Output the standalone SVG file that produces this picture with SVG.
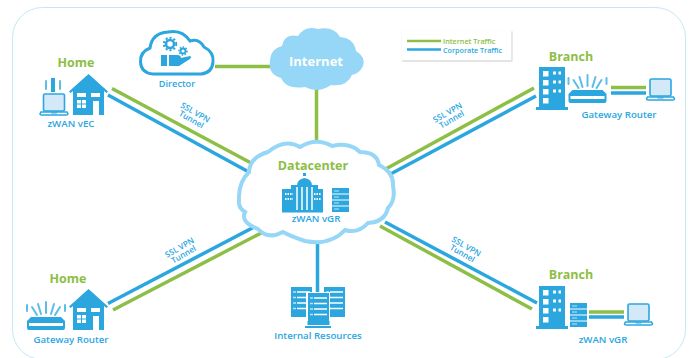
<svg xmlns="http://www.w3.org/2000/svg" width="694" height="358" viewBox="0 0 694 358">
<style>
text{font-family:"Open Sans","Liberation Sans",sans-serif;font-weight:600;fill:#2ba6df;text-anchor:middle}
.t{font-size:9.7px}
.h{font-size:12.5px;font-weight:700;fill:#8dbe46}
.s{font-size:8.2px}
.g{stroke:#8dbe46;stroke-width:3.500;fill:none}
.b{stroke:#2ba6df;stroke-width:3.500;fill:none}
.f{fill:#2ba6df}
.w{fill:#fff}
.o{fill:#d3e9f7;stroke:#2ba6df;stroke-width:1.6}
.a{stroke:#5dbde9;stroke-width:2;fill:none;stroke-linecap:round}
</style>
<defs>
<g id="house">
<path class="f" d="M19.500 0L39 17.500L37.500 19L35 17V41H4V17L1.500 19L0 17.500Z"/>
<rect class="w" x="8" y="19" width="9" height="4"/><rect class="w" x="22" y="19" width="9" height="4"/>
<rect class="w" x="8" y="26" width="9" height="8"/><rect class="w" x="24" y="27" width="6" height="14"/>
<path d="M12.500 26v8M8 30h9" stroke="#2ba6df" stroke-width="1"/>
</g>
<g id="laptop">
<rect class="o" x="3.500" y="1" width="21" height="17" rx="1.500"/>
<path class="o" d="M1 19H27L28 21Q28 22 26 22H2Q0 22 0 21Z" style="fill:#fff"/>
<rect class="f" x="11" y="19.500" width="6" height="1"/>
</g>
<g id="router">
<path class="a" d="M19 0V11M11 2L14 12M27 2L24 12M5 5L10 13M33 5L28 13"/>
<path class="a" d="M0 3V9M38 3V9"/>
<path class="f" d="M4 15H34L38 19V26Q38 28 36 28H2Q0 28 0 26V19Z"/>
<rect class="w" x="2" y="21" width="34" height="3"/>
</g>
<g id="building">
<rect class="f" x="3" y="0" width="26" height="41"/>
<rect class="f" x="0" y="40" width="32" height="3"/>
<rect class="w" x="7" y="4" width="5.500" height="5.500"/><rect class="w" x="7" y="13" width="5.500" height="5.500"/><rect class="w" x="7" y="22" width="5.500" height="5.500"/><rect class="w" x="7" y="31" width="5.500" height="5.500"/>
<path d="M17 6h8M17 15h8M17 24h8" stroke="#fff" stroke-width="3" stroke-dasharray="3 2.500"/>
</g>
<g id="server">
<rect class="f" x="0" y="0" width="17" height="24"/>
<path d="M0 6h17M0 12h17M0 18h17" stroke="#fff" stroke-width="1"/>
<path d="M2 3h5M2 9h5M2 15h5M2 21h5" stroke="#bfe3f6" stroke-width="1.200"/>
</g>
<g id="rack">
<rect class="f" x="0" y="0" width="21" height="30"/>
<path d="M6 5h13M6 10.500h13M6 16h13M6 21.500h13" stroke="#fff" stroke-width="1.600"/>
<path d="M2 5h3M2 10.500h3M2 16h3M2 21.500h3" stroke="#bfe3f6" stroke-width="1.600"/>
</g>
<filter id="sh" x="-5%" y="-10%" width="110%" height="125%"><feDropShadow dx="0.600" dy="0.800" stdDeviation="0.700" flood-color="#999" flood-opacity="0.700"/></filter>
</defs>

<rect id="frame" x="12.500" y="7.500" width="673" height="352" rx="30" fill="#fff" stroke="#c4e8f4"/>

<g id="connectors">
<path class="g" d="M215 66.500H271M316.500 88V142"/>
<path class="g" d="M112 88.500L252 163.500"/><path class="b" d="M108 95L247 171"/>
<path class="g" d="M382 171L534 88"/><path class="b" d="M385 177L536 96"/>
<path class="b" d="M108 303.500L256 226"/><path class="g" d="M113 310L263 232"/>
<path class="b" d="M385 222L537 303"/><path class="g" d="M380 226L532 309"/>
<path class="g" d="M611 87.500H646M589 312H624"/><path class="b" d="M611 93H646M589 317H624"/>
<path class="b" d="M317.500 242V294"/>
</g>

<g id="legend">
<rect x="401.500" y="30.500" width="110" height="30" fill="#fff" filter="url(#sh)"/>
<path class="g" d="M407 41H441" style="stroke-width:2.500"/><path class="b" d="M407 49.500H441" style="stroke-width:2.500"/>
<text x="443" y="43.500" font-size="7.200" style="text-anchor:start;fill:#8dbe46">Internet Traffic</text>
<text x="443" y="52.500" font-size="7.200" style="text-anchor:start">Corporate Traffic</text>
</g>

<g id="internet">
<path fill="#96d7f7" d="M270 62Q270 49 282 46Q284 33 298 36Q305 25 318 29Q334 26 340 37Q354 38 356 51Q366 57 363 66Q360 73 352 75Q347 87 331 85Q318 94 305 87Q286 90 281 78Q268 74 270 62Z"/>
<text x="316" y="66" style="fill:#fff;font-size:13px;font-weight:700">Internet</text>
</g>

<g id="director">
<path fill="#fff" stroke="#2ba6df" stroke-width="3" d="M153 74Q141 73 140.500 62Q140 52 150 48Q152 33 168 32Q182 29 190 41Q199 38 204 47Q214 52 213 62Q212 73 201 74Z"/>
<circle cx="170" cy="44" r="4" fill="none" stroke="#2ba6df" stroke-width="2.500"/>
<circle cx="170" cy="44" r="6.200" fill="none" stroke="#2ba6df" stroke-width="2" stroke-dasharray="2 2"/>
<circle cx="183" cy="51" r="2.500" fill="none" stroke="#2ba6df" stroke-width="1.800"/>
<circle cx="183" cy="51" r="4" fill="none" stroke="#2ba6df" stroke-width="1.500" stroke-dasharray="1.500 1.500"/>
<rect class="f" x="161" y="55" width="6" height="11"/>
<path class="f" d="M169 55H177Q181 55 181 58L190 56Q192 57 190 59L179 66H169Z"/>
<text class="t" x="177" y="87" style="font-size:9.200px">Director</text>
</g>

<g id="home-top">
<text class="h" x="76" y="67">Home</text>
<use href="#house" x="69" y="74"/>
<use href="#laptop" x="40" y="93"/>
<path class="a" d="M46 81V89M60 81V89"/><rect class="f" x="51" y="78" width="4" height="14"/>
<text class="t" x="71" y="127">zWAN vEC</text>
</g>

<g id="home-bottom">
<text class="h" x="68" y="283">Home</text>
<use href="#house" x="69" y="289"/>
<use href="#router" x="27" y="302"/>
<text class="t" x="71" y="343">Gateway Router</text>
</g>

<g id="branch-top">
<text class="h" x="571" y="61">Branch</text>
<use href="#building" x="536" y="67"/>
<use href="#router" x="568.500" y="75"/>
<use href="#laptop" x="646.500" y="78"/>
<text class="t" x="619" y="118">Gateway Router</text>
</g>

<g id="branch-bottom">
<text class="h" x="571" y="279">Branch</text>
<use href="#building" x="536" y="286"/>
<use href="#server" x="570" y="303"/>
<use href="#laptop" x="624.500" y="303"/>
<text class="t" x="603" y="343">zWAN vGR</text>
</g>

<g id="datacenter">
<path fill="#fff" stroke="#96d7f7" stroke-width="4" d="M239 200Q238 183 249 172Q250 157 268 152Q285 138 300 147Q316 137 332 146Q350 142 360 152Q377 152 379 165Q394 172 393 186Q396 200 388 208Q385 222 368 223Q358 234 345 230Q330 246 305 241Q290 236 283 232Q268 240 258 229Q240 222 245 212Q238 208 239 200Z"/>
<text class="h" x="313" y="170">Datacenter</text>
<g class="f">
<rect x="303" y="173" width="3" height="3"/>
<path d="M297 186Q297 179 304.500 178Q312 179 312 186Z"/>
<rect x="291" y="185" width="27" height="25"/>
<rect x="282" y="189" width="41" height="21"/>
<rect x="282" y="210" width="41" height="2.500"/>
</g>
<path d="M297 187V210M302 187V210M307 187V210M312 187V210" stroke="#fff" stroke-width="1.500"/>
<path d="M285 194h8M285 199h8M314 194h7M314 199h7" stroke="#fff" stroke-width="2" stroke-dasharray="1.500 1"/>
<use href="#server" x="332" y="188"/>
<text class="t" x="316" y="222">zWAN vGR</text>
</g>

<g id="internal-resources">
<use href="#rack" x="291" y="287"/>
<use href="#rack" x="324" y="287"/>
<rect x="306" y="292" width="24" height="33" fill="#fff"/>
<use href="#rack" x="308" y="293"/>
<rect class="f" x="307.500" y="321" width="22" height="4"/>
<rect class="f" x="305" y="326" width="26" height="2"/>
<text class="t" x="318" y="339">Internal Resources</text>
</g>

<g id="tunnel-labels">
<g transform="translate(194 115) rotate(30)"><text class="s">SSL VPN</text><text class="s" y="8">Tunnel</text></g>
<g transform="translate(449 115) rotate(-30)"><text class="s">SSL VPN</text><text class="s" y="8">Tunnel</text></g>
<g transform="translate(181 250) rotate(-30)"><text class="s">SSL VPN</text><text class="s" y="8">Tunnel</text></g>
<g transform="translate(465 249) rotate(30)"><text class="s">SSL VPN</text><text class="s" y="8">Tunnel</text></g>
</g>
</svg>
